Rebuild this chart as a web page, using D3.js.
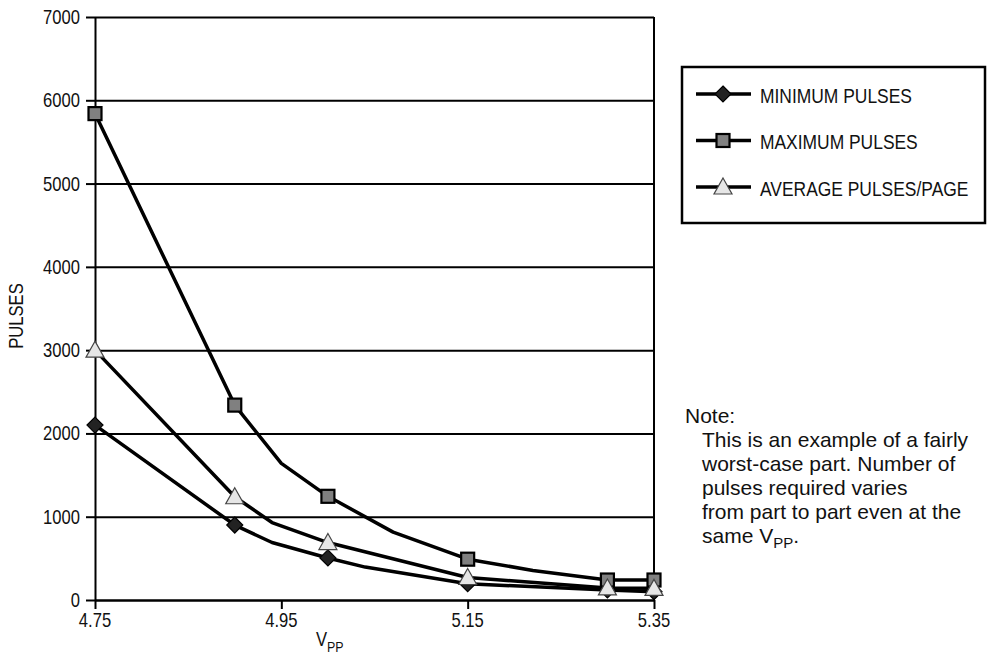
<!DOCTYPE html>
<html>
<head>
<meta charset="utf-8">
<script src="https://d3js.org/d3.v7.min.js"></script>
<style>
  body { margin: 0; background: #fff; }
  .narrow { font-family: "Liberation Sans", Arial, sans-serif; fill: #111; }
  .note { font-family: "Liberation Sans", Arial, sans-serif; font-size: 21px; fill: #111; }
</style>
</head>
<body>
<div id="chart"></div>
<script>
// ---- data ----
const xTicks = [4.75, 4.95, 5.15, 5.35];
const yTicks = [0, 1000, 2000, 3000, 4000, 5000, 6000, 7000];

// vpp values of each series; "mark" says whether a marker sits on the point
const minVpp    = [4.75, 4.90, 4.94, 5.00, 5.04, 5.15, 5.30, 5.35];
const minPulses = [2100,  900,  690,  505,  395,  195,  120,  100];
const minMark   = [1, 1, 0, 1, 0, 1, 1, 1];

const maxVpp    = [4.75, 4.90, 4.95, 5.00, 5.07, 5.15, 5.22, 5.30, 5.35];
const maxPulses = [5840, 2340, 1640, 1245,  815,  490,  355,  240,  240];
const maxMark   = [1, 1, 0, 1, 0, 1, 0, 1, 1];

const avgVpp    = [4.75, 4.90, 4.94, 5.00, 5.15, 5.30, 5.35];
const avgPulses = [3000, 1240,  930,  690,  270,  145,  140];
const avgMark   = [1, 1, 0, 1, 1, 1, 1];

const seriesNames = ["MINIMUM PULSES", "MAXIMUM PULSES", "AVERAGE PULSES/PAGE"];
const noteLines = ["This is an example of a fairly", "worst-case part. Number of",
                   "pulses required varies", "from part to part even at the"];

const W = 988, H = 661;
const margin = { top: 17, left: 95, right: 334, bottom: 61 };
const SQUEEZE = 0.83;   // condensed look for the chart labels

const svg = d3.select("#chart").append("svg")
    .attr("width", W).attr("height", H);

const x = d3.scaleLinear().domain([4.75, 5.35]).range([margin.left, W - margin.right]);
const y = d3.scaleLinear().domain([0, 7000]).range([H - margin.bottom, margin.top]);

// narrow text: regular face squeezed horizontally
function narrowText(parent, tx, ty, str, size, anchor, rot) {
  const g = parent.append("g")
      .attr("transform", `translate(${tx},${ty})` + (rot ? ` rotate(${rot})` : "") + ` scale(${SQUEEZE},1)`);
  return g.append("text")
      .attr("class", "narrow")
      .attr("text-anchor", anchor || "start")
      .style("font-size", size + "px")
      .text(str);
}

// gridlines
svg.append("g")
    .attr("transform", `translate(${margin.left},0)`)
    .call(d3.axisLeft(y).tickValues(yTicks).tickSize(-(x.range()[1] - margin.left)).tickFormat(""))
    .call(g => g.select(".domain").remove())
    .call(g => g.selectAll("line").attr("stroke", "#000").attr("stroke-width", 2));

// right frame
svg.append("line")
    .attr("x1", x.range()[1]).attr("x2", x.range()[1])
    .attr("y1", y(7000)).attr("y2", y(0))
    .attr("stroke", "#000").attr("stroke-width", 2);

// y axis
svg.append("g")
    .attr("transform", `translate(${margin.left},0)`)
    .call(d3.axisLeft(y).tickValues(yTicks).tickSize(9).tickSizeOuter(0).tickFormat(""))
    .call(g => g.select(".domain").attr("stroke-width", 2))
    .call(g => g.selectAll("line").attr("stroke-width", 2));
yTicks.forEach(t => narrowText(svg, 80, y(t) + 7, d3.format("d")(t), 20, "end"));

// x axis
svg.append("g")
    .attr("transform", `translate(0,${y(0)})`)
    .call(d3.axisBottom(x).tickValues(xTicks).tickSize(9).tickSizeOuter(0).tickFormat(""))
    .call(g => g.select(".domain").attr("stroke-width", 2))
    .call(g => g.selectAll("line").attr("stroke-width", 2));
xTicks.forEach(t => narrowText(svg, x(t), 627, d3.format(".2f")(t), 20, "middle"));

// axis titles
narrowText(svg, 23, 316, "PULSES", 20, "middle", -90);

const xt = narrowText(svg, 316, 646, "V", 20, "start");
xt.append("tspan").attr("dy", 6).style("font-size", "15px").text("PP");

// series
const series = [
  { vpp: minVpp, val: minPulses, mark: minMark, shape: "diamond" },
  { vpp: maxVpp, val: maxPulses, mark: maxMark, shape: "square" },
  { vpp: avgVpp, val: avgPulses, mark: avgMark, shape: "triangle" }
];

const line = d3.line().x(d => x(d[0])).y(d => y(d[1]));

series.forEach(s => {
  const pts = s.vpp.map((v, i) => [v, s.val[i]]);
  svg.append("path")
      .datum(pts)
      .attr("fill", "none")
      .attr("stroke", "#000")
      .attr("stroke-width", 3.5)
      .attr("stroke-linejoin", "round")
      .attr("d", line);
});

function drawMarker(g, shape, cx, cy) {
  if (shape === "diamond") {
    g.append("path")
        .attr("d", `M${cx},${cy - 8}L${cx + 8},${cy}L${cx},${cy + 8}L${cx - 8},${cy}Z`)
        .attr("fill", "#222").attr("stroke", "#000").attr("stroke-width", 1.2);
  } else if (shape === "square") {
    g.append("rect")
        .attr("x", cx - 6.5).attr("y", cy - 6.5).attr("width", 13).attr("height", 13)
        .attr("fill", "#808080").attr("stroke", "#000").attr("stroke-width", 2.2);
  } else {
    g.append("path")
        .attr("d", `M${cx},${cy - 9}L${cx + 9},${cy + 7}L${cx - 9},${cy + 7}Z`)
        .attr("fill", "#e6e6e6").attr("stroke", "#444").attr("stroke-width", 1.2);
  }
}

series.forEach(s => {
  const g = svg.append("g");
  s.vpp.forEach((v, i) => {
    if (s.mark[i]) drawMarker(g, s.shape, x(v), y(s.val[i]));
  });
});

// legend
svg.append("rect")
    .attr("x", 682).attr("y", 67).attr("width", 303).attr("height", 156)
    .attr("fill", "#fff").attr("stroke", "#000").attr("stroke-width", 2.5);

const shapes = ["diamond", "square", "triangle"];
seriesNames.forEach((name, i) => {
  const ly = 94 + i * 46.5;
  const lg = svg.append("g");
  lg.append("line").attr("x1", 696).attr("x2", 751).attr("y1", ly).attr("y2", ly)
      .attr("stroke", "#000").attr("stroke-width", 3.5);
  drawMarker(lg, shapes[i], 723, ly);
  narrowText(lg, 760, ly + 8.5, name, 21, "start");
});

// note
svg.append("text").attr("class", "note").attr("x", 685).attr("y", 423).text("Note:");
noteLines.forEach((t, i) => {
  svg.append("text").attr("class", "note").attr("x", 702).attr("y", 447 + i * 24).text(t);
});
const last = svg.append("text").attr("class", "note").attr("x", 702).attr("y", 543);
last.append("tspan").text("same V");
last.append("tspan").attr("dy", 5).style("font-size", "15px").text("PP");
last.append("tspan").attr("dy", -5).text(".");
</script>
</body>
</html>
